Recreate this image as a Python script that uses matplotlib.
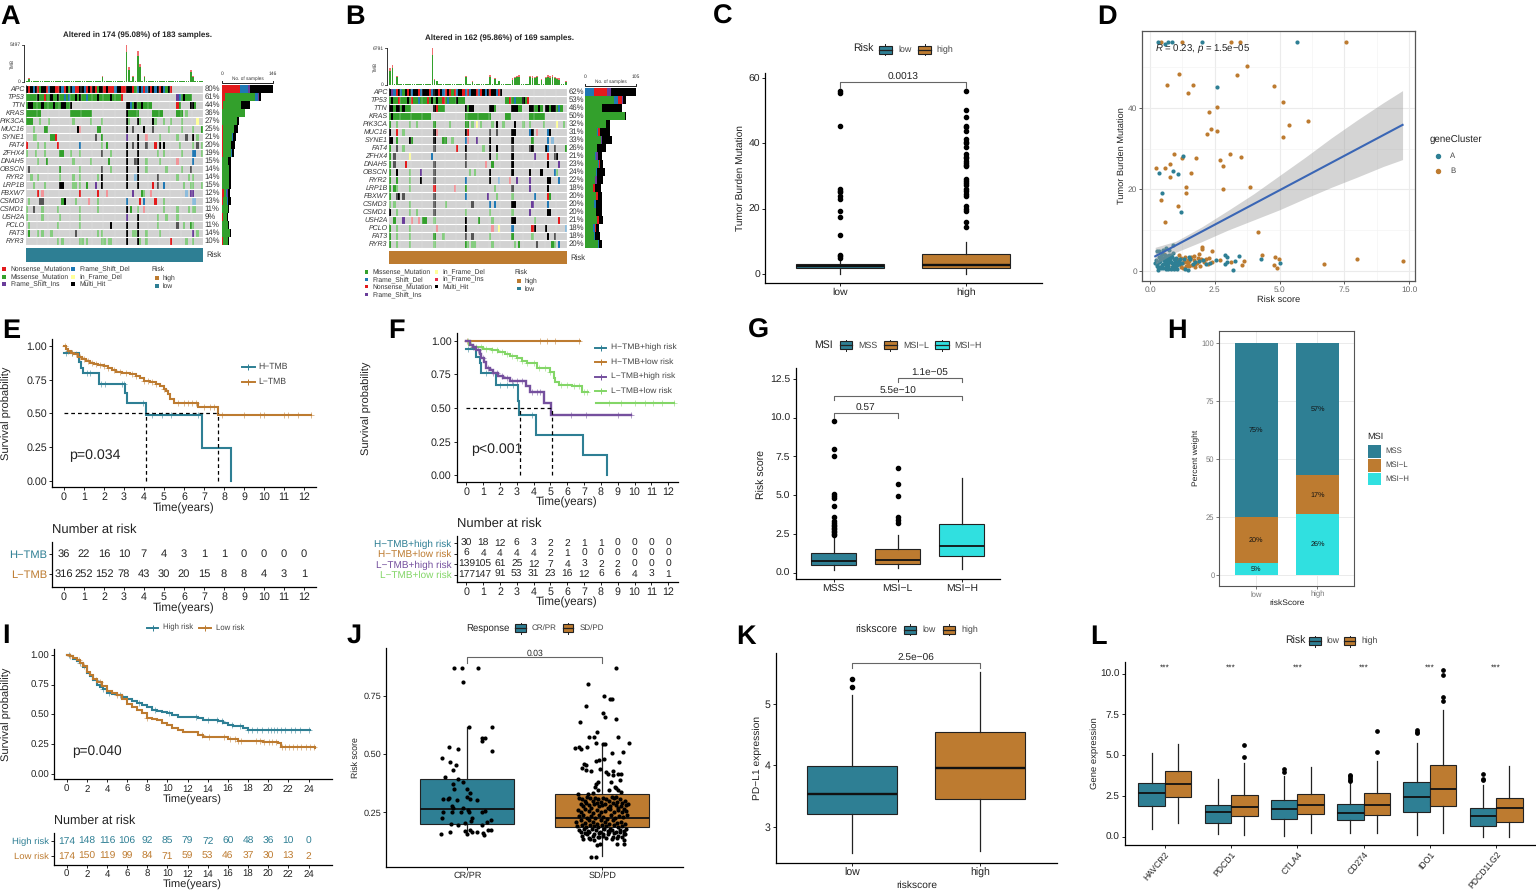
import numpy as np
import matplotlib
matplotlib.use('Agg')
import matplotlib.pyplot as plt
from matplotlib.colors import ListedColormap
from matplotlib.patches import Rectangle

plt.rcParams['font.family'] = ['Liberation Sans', 'DejaVu Sans']
plt.rcParams['axes.unicode_minus'] = True
plt.rcParams['text.hinting'] = 'none'
plt.rcParams['mathtext.fontset'] = 'custom'
plt.rcParams['mathtext.it'] = 'Liberation Sans:italic'
plt.rcParams['mathtext.rm'] = 'Liberation Sans'

TEAL = '#2E7F94'
ORANGE = '#BD7B30'
CYAN = '#30E0E0'
LGREEN = '#83D667'
PURPLE = '#75509E'
W, H = 1536, 891

# ---------- panel A / B oncoplots ----------
genes_a = ['APC', 'TP53', 'TTN', 'KRAS', 'PIK3CA', 'MUC16', 'SYNE1', 'FAT4', 'ZFHX4', 'DNAH5',
           'OBSCN', 'RYR2', 'LRP1B', 'FBXW7', 'CSMD3', 'CSMD1', 'USH2A', 'PCLO', 'FAT3', 'RYR3']
pct_a = ['80%', '61%', '44%', '36%', '27%', '25%', '21%', '20%', '19%', '15%',
         '14%', '14%', '15%', '12%', '13%', '11%', '9%', '11%', '14%', '10%']
# per gene: (first column, mutation codes)
onco_a = [
    [(0, "XNXFXNMXXNFXXNNXFNXMXFNNXXFNXNXNMXXNXNNNFXXNNXXXNMFXFNFXNXFXNXFMXN")],
    [(0, "MMMMMXMMNMMXMMXMMFMFMMXMXMMFMMMMXMMMMMXMMMMN"), (68, "IFMXMMM")],
    [(0, "MXXMMMMXMMMMXMMMXXMMX"), (45, "XXFMXMMXMMMM"), (68, "NM"), (74, "XXM")],
    [(0, "MMMMMMM"), (20, "MMMMMMMMMM"), (45, "XMMMMM"), (57, "MMMMM"), (68, "MMM"), (72, "m")],
    [(0, "MMM"), (6, "m"), (10, "m"), (21, "m"), (29, "m"), (34, "m"), (45, "X"), (46, "m"), (50, "X"), (51, "m"),
     (57, "X"), (58, "m"), (62, "m"), (65, "m"), (70, "m"), (77, "Y")],
    [(3, "m"), (8, "MM"), (23, "Xn"), (32, "MM"), (45, "X"), (48, "x"), (53, "X"), (57, "x"), (64, "m"), (70, "m"), (75, "m"), (79, "M")],
    [(3, "mm"), (11, "MMN"), (31, "x"), (34, "M"), (45, "I"), (50, "X"), (54, "n"), (60, "m"), (68, "m"), (72, "x"), (75, "X"), (77, "m")],
    [(0, "N"), (5, "m"), (8, "m"), (14, "N"), (24, "F"), (34, "m"), (36, "M"), (45, "X"), (48, "x"), (50, "X"), (54, "x"), (58, "N"),
     (60, "X"), (62, "X"), (69, "m"), (75, "m"), (77, "x"), (79, "m")],
    [(0, "m"), (4, "m"), (8, "m"), (15, "MM"), (20, "m"), (24, "m"), (34, "x"), (38, "m"), (45, "X"), (50, "X"), (59, "m"), (62, "m"),
     (70, "m"), (75, "FF"), (79, "m")],
    [(5, "m"), (9, "M"), (21, "m"), (29, "m"), (37, "M"), (45, "X"), (49, "xX"), (54, "m"), (60, "m"), (68, "n"), (75, "F")],
    [(1, "x"), (15, "M"), (24, "m"), (34, "x"), (38, "m"), (45, "X"), (50, "X"), (54, "m"), (63, "m"), (70, "m"), (74, "x")],
    [(2, "m"), (5, "m"), (15, "m"), (21, "m"), (24, "m"), (32, "m"), (34, "X"), (45, "X"), (49, "f"), (50, "X"), (59, "x"), (68, "m"), (73, "m"), (75, "m")],
    [(3, "m"), (8, "m"), (15, "XX"), (21, "m"), (22, "m"), (24, "m"), (27, "M"), (31, "I"), (34, "X"), (45, "X"), (50, "X"), (57, "N"), (59, "x"), (62, "F"),
     (71, "m"), (74, "m"), (75, "m"), (79, "m")],
    [(5, "N"), (7, "n"), (24, "N"), (32, "N"), (36, "n"), (48, "I"), (52, "M"), (53, "m"), (56, "n"), (72, "f"), (74, "I"), (75, "I")],
    [(1, "m"), (6, "xx"), (16, "MX"), (22, "m"), (28, "n"), (32, "m"), (45, "F"), (51, "N"), (53, "F"), (58, "N"), (62, "m"), (75, "ff")],
    [(0, "m"), (3, "x"), (7, "m"), (14, "m"), (24, "m"), (32, "m"), (45, "X"), (47, "M"), (50, "m"), (53, "n"), (62, "m"), (68, "m"), (73, "m"), (75, "mm")],
    [(0, "m"), (7, "m"), (15, "m"), (24, "m"), (45, "I"), (50, "X"), (59, "m"), (63, "m"), (68, "m")],
    [(1, "m"), (14, "m"), (24, "m"), (38, "X"), (45, "X"), (50, "X"), (59, "m"), (68, "x"), (71, "m"), (74, "M"), (75, "m")],
    [(1, "M"), (5, "m"), (7, "m"), (11, "m"), (22, "x"), (32, "m"), (34, "m"), (45, "X"), (48, "m"), (49, "m"), (50, "X"), (54, "m"), (60, "m"), (75, "I"), (77, "m")],
    [(14, "m"), (16, "m"), (24, "mm"), (27, "m"), (34, "m"), (35, "m"), (37, "m"), (38, "m"), (45, "X"), (50, "X"), (51, "m"), (54, "m"), (65, "N"), (72, "m"), (75, "m")],
]
tmb_a_cols = [1, 34, 45, 46, 48, 50, 51, 53, 74, 75]
tmb_a_vals = [0.10, 0.17, 1.00, 0.40, 0.17, 0.85, 0.50, 0.15, 0.32, 0.15]
bar_types_a = ['N', 'M', 'F', 'I', 'X']
bar_a = [[52, 0, 23, 6, 65], [10, 84, 10, 2, 5], [3, 50, 0, 0, 26], [0, 66, 0, 0, 0], [1, 43, 0, 0, 6],
         [2, 33, 0, 0, 11], [2, 28, 1, 1, 7], [3, 23, 1, 0, 9], [2, 25, 1, 0, 7], [1, 17, 0, 0, 7],
         [1, 18, 0, 0, 6], [1, 19, 1, 0, 5], [1, 18, 1, 1, 6], [5, 6, 4, 3, 4], [2, 12, 3, 1, 7],
         [1, 16, 0, 0, 4], [2, 11, 1, 0, 3], [1, 15, 0, 0, 5], [1, 21, 0, 0, 4], [2, 14, 0, 0, 3]]

pct_b = ['62%', '53%', '46%', '50%', '32%', '31%', '33%', '26%', '21%', '23%',
         '24%', '22%', '18%', '20%', '20%', '20%', '21%', '18%', '18%', '20%']
onco_b = [
    [(0, "XIFNXFMXNXFXXNFXXXNFXXNXFNXNMNFXXNFNFXXNFNXFXNXXFNX")],
    [(0, "MXMMNMMMXMNMMFMMMNMXMXMMNMFMMMXMMM"), (52, "MMNMFMMMXMN")],
    [(0, "XXMXXMXMMM"), (20, "XNMMM"), (34, "XMXX"), (45, "XXM"), (55, "XXXMM"), (63, "XXMMXM"), (70, "XXMXXMFM")],
    [(0, "MXMMMMMMMMMMMMMMMMM"), (34, "MMMMMMMMMMMM"), (52, "MMM"), (63, "MMMMMMM")],
    [(0, "M"), (3, "m"), (9, "m"), (12, "m"), (20, "M"), (27, "m"), (34, "MM"), (37, "m"), (39, "Y"), (41, "m"), (46, "m"), (48, "X"), (51, "m"), (56, "X"), (60, "m"), (63, "m"), (69, "m"), (75, "Y"), (78, "m")],
    [(0, "X"), (3, "N"), (6, "m"), (20, "Xn"), (34, "XN"), (45, "x"), (48, "x"), (55, "XX"), (63, "FX"), (66, "n"), (71, "FX")],
    [(0, "XX"), (3, "M"), (9, "XM"), (20, "X"), (24, "MM"), (28, "m"), (34, "Fn"), (39, "I"), (45, "X"), (55, "X"), (64, "M"), (71, "F"), (73, "f")],
    [(0, "M"), (3, "x"), (6, "m"), (20, "x"), (30, "N"), (34, "X"), (42, "m"), (45, "X"), (48, "X"), (55, "x"), (63, "xX"), (70, "XF"), (74, "x"), (79, "M")],
    [(0, "M"), (2, "x"), (9, "Y"), (19, "F"), (34, "x"), (45, "X"), (48, "m"), (55, "X"), (65, "I"), (71, "N"), (74, "xX")],
    [(0, "M"), (2, "x"), (7, "N"), (20, "x"), (34, "x"), (43, "n"), (46, "M"), (55, "X"), (71, "X"), (76, "I")],
    [(0, "M"), (3, "X"), (9, "m"), (14, "I"), (20, "x"), (36, "m"), (38, "m"), (45, "X"), (55, "X"), (63, "X"), (68, "X"), (74, "Fm")],
    [(0, "M"), (3, "M"), (9, "m"), (14, "X"), (20, "x"), (34, "F"), (45, "X"), (49, "f"), (54, "n"), (57, "I"), (63, "I"), (71, "XX"), (76, "F")],
    [(0, "M"), (2, "Mm"), (9, "m"), (20, "N"), (29, "n"), (34, "M"), (47, "m"), (55, "x"), (63, "I"), (71, "X")],
    [(0, "M"), (3, "xX"), (6, "x"), (20, "x"), (34, "F"), (44, "I"), (48, "m"), (55, "m"), (65, "F"), (71, "NM")],
    [(0, "m"), (2, "m"), (9, "m"), (20, "x"), (25, "m"), (37, "x"), (45, "F"), (47, "F"), (55, "XX"), (64, "I"), (71, "F")],
    [(0, "X"), (3, "m"), (9, "m"), (12, "m"), (20, "x"), (34, "m"), (45, "m"), (55, "m"), (63, "I"), (71, "XX")],
    [(2, "M"), (6, "I"), (10, "n"), (13, "n"), (15, "MM"), (20, "m"), (34, "X"), (40, "M"), (46, "m"), (55, "XX"), (65, "m"), (76, "N")],
    [(0, "M"), (3, "m"), (9, "m"), (21, "n"), (34, "X"), (46, "n"), (49, "Y"), (55, "F"), (64, "NX"), (70, "X"), (79, "f")],
    [(0, "M"), (3, "m"), (9, "m"), (20, "M"), (24, "m"), (34, "x"), (37, "x"), (45, "m"), (55, "M"), (64, "m"), (71, "X"), (74, "x")],
    [(0, "M"), (3, "m"), (9, "m"), (20, "m"), (34, "Mm"), (37, "mm"), (46, "m"), (56, "m"), (58, "M"), (66, "x"), (73, "Mm"), (76, "F")],
]
tmb_b_cols = [0, 1, 3, 19, 20, 21, 34, 37, 45, 47, 49, 55, 56, 57, 58, 63, 64, 65, 66, 68, 70, 71, 72, 73, 74, 75, 76, 79]
tmb_b_vals = [0.45, 0.55, 0.25, 1.0, 0.16, 0.12, 0.25, 0.10, 0.28, 0.20, 0.12, 0.18, 0.22, 0.25, 0.28,
              0.25, 0.24, 0.22, 0.25, 0.15, 0.22, 0.26, 0.24, 0.28, 0.22, 0.20, 0.18, 0.10]
bar_types_b = ['M', 'F', 'N', 'I', 'X']
bar_b = [[0, 19, 27, 7, 51], [59, 8, 10, 1, 7], [34, 0, 2, 0, 40], [82, 0, 0, 0, 2], [44, 0, 0, 0, 8],
         [25, 2, 3, 0, 22], [32, 0, 0, 2, 21], [25, 0, 0, 0, 18], [20, 2, 1, 3, 8], [27, 2, 2, 0, 6],
         [22, 2, 0, 0, 18], [20, 0, 0, 4, 14], [17, 0, 4, 0, 11], [22, 0, 5, 0, 7], [19, 4, 0, 0, 11],
         [23, 0, 0, 0, 11], [24, 0, 4, 0, 10], [17, 3, 2, 0, 7], [18, 3, 0, 0, 9], [26, 3, 0, 0, 5]]

# ---------- panel C ----------
c_low = [1.8, 2.4, 3.2, 0.1, 4.8]
c_low_out = [5, 5.5, 5.9, 12, 17.5, 19.3, 23, 24, 25, 25.5, 26, 45.5, 55.5, 56]
c_high = [1.7, 2.8, 6.0, 0.1, 9.7]
c_high_out = [14.5, 16, 19.2, 20, 20.7, 23.8, 24.5, 25.5, 26, 27.3, 28, 28.5, 29, 33, 33.5, 34, 34.6, 35.5, 36, 36.7,
              39, 40, 40.5, 41.3, 43.7, 45, 45.5, 48, 50.3, 56]

# ---------- panel D ----------
d_a_x = [0.30, 0.59, 0.71, 0.84, 2.0, 5.69, 2.57, 1.29, 0.36, 0.89, 1.09, 0.45, 1.2, 4.29, 5.03, 3.2, 3.44, 2.91, 2.96, 2.88, 2.96, 3.29, 2.55,
         2.15, 2.3, 2.05, 1.9, 1.75, 1.65, 1.55, 1.45, 1.35, 1.25, 1.15, 1.05, 0.95, 0.9, 0.85, 0.8, 0.75, 0.7, 0.65, 0.6, 0.55, 0.5, 0.45, 0.4,
         0.35, 0.3, 0.25, 0.2, 0.27, 0.33, 0.38, 0.44, 0.5, 0.57, 0.63, 0.69, 0.74, 0.82, 0.88, 0.93, 1.0, 1.06, 1.12, 1.3, 1.5, 0.4, 0.6, 0.72, 0.9,
         0.28, 0.36, 0.47, 0.53, 0.62, 0.67, 0.78, 0.86, 0.97, 1.02, 1.1, 0.32, 0.42, 0.52, 0.58, 0.68, 0.76, 0.84, 0.92, 1.0, 0.24, 0.48, 0.66, 0.8]
d_a_y = [56.1, 55.5, 56.1, 56.1, 56.1, 56.1, 45, 28.2, 24.1, 24.5, 23.7, 19.2, 14.5, 2.9, 2.0, 0.3, 3.7, 3.8, 3.5, 1.6, 2.2, 2.4, 2.7,
         1.7, 1.9, 2.6, 2.5, 2.3, 1.7, 2.9, 0.3, 0.4, 2.0, 3.0, 0.4, 2.6, 1.3, 3.5, 0.5, 4.0, 1.9, 2.8, 0.6, 3.2, 1.7, 4.2, 2.4, 3.4, 0.3, 1.6, 2.0,
         4.9, 5.0, 2.8, 0.7, 5.1, 3.9, 5.7, 1.2, 5.2, 2.2, 6.3, 0.5, 3.3, 1.5, 2.5, 3.0, 3.4, 1.0, 1.8, 3.0, 4.3,
         1.2, 2.1, 1.5, 2.7, 1.1, 3.7, 3.1, 1.9, 2.0, 1.2, 1.8, 0.9, 3.6, 0.8, 2.3, 0.4, 2.5, 1.0, 3.0, 2.3, 2.6, 3.3, 3.1, 3.8]
d_b_x = [0.42, 1.22, 3.13, 3.49, 7.57, 3.75, 1.12, 3.37, 0.67, 1.67, 4.8, 1.48, 5.14, 2.59, 2.27, 6.11, 5.38, 2.36, 2.57, 2.19, 5.15,
         0.94, 3.1, 3.51, 1.22, 1.78, 2.7, 0.79, 2.83, 0.24, 0.57, 1.6, 0.79, 1.38, 2.82, 3.86, 1.38, 0.42, 1.08, 0.58, 4.16,
         9.77, 7.99, 6.73, 4.32, 4.84, 4.97, 4.77, 4.92, 2.0, 2.02, 2.39, 1.9, 2.27, 2.7, 3.62, 3.55, 3.11,
         1.85, 1.8, 1.7, 1.62, 1.55, 1.48, 1.4, 1.35, 1.3, 1.2, 1.15, 1.1, 1.03, 0.98, 0.7, 0.65, 0.55, 2.1, 1.95, 1.75, 1.5, 1.25, 1.18,
         1.42, 1.52, 1.58, 1.68, 1.72, 1.88, 1.92, 1.28, 1.33, 1.45, 0.62, 0.75, 2.4, 2.25, 2.15]
d_b_y = [56.1, 56.1, 56.1, 56.1, 56.1, 50.3, 48.2, 48, 45.5, 45.5, 45.4, 43.7, 41.3, 40.3, 39, 36.7, 35.7, 34.8, 34.3, 33.6, 32.8,
         28.7, 28.7, 28, 27.8, 27.7, 27.2, 26.2, 25.7, 25.2, 25.2, 24, 23, 20.6, 20.2, 20.6, 19.1, 17.4, 15.9, 12, 9.6,
         2.45, 2.86, 1.8, 3.9, 3.35, 3.0, 1.4, 0.8, 5.9, 5.3, 4.9, 4.2, 3.3, 2.7, 2.4, 1.5, 2.2,
         3.1, 2.0, 3.6, 1.5, 3.3, 2.8, 1.2, 3.5, 2.3, 0.9, 1.6, 3.8, 2.9, 1.1, 1.3, 2.7, 4.1, 2.1, 3.0, 1.1, 2.5, 1.9, 3.3,
         2.1, 1.2, 3.4, 2.6, 1.7, 2.4, 1.3, 0.8, 2.9, 1.8, 1.0, 2.2, 2.1, 1.7, 2.9]
d_fit_x = [0.2, 9.75]
d_fit_y = [3.6, 35.8]
d_band_x = [0.2, 1, 2, 3, 4, 5, 6, 7, 8, 9, 9.75]
d_band_hi = [5.8, 7.3, 10.8, 14.8, 18.9, 23.4, 27.9, 32.6, 37, 41.2, 44.2]
d_band_lo = [1.6, 4.6, 7.2, 10, 12.5, 15, 17.8, 20.5, 23, 25.6, 27.3]

# ---------- panels E / F / I survival ----------
e_h_t = [0, 0.75, 0.85, 0.95, 1.75, 3.05, 3.15, 4.1, 6.92, 8.35]
e_h_s = [0.95, 0.88, 0.84, 0.80, 0.72, 0.65, 0.575, 0.49, 0.245, 0.0]
e_h_c = [0.1, 0.4, 1.15, 1.3, 1.85, 2.05, 2.9, 3.0, 3.95, 4.4, 4.9, 5.35, 6.7]
e_l_t = [0, 0.1, 0.2, 0.35, 0.5, 0.7, 0.9, 1.1, 1.3, 1.5, 1.7, 2.0, 2.2, 2.4, 2.6, 2.9, 3.3, 3.6, 3.8, 4.0, 4.3, 4.6, 4.8, 5.0, 5.1, 5.2, 5.3, 5.5, 6.7, 7.7, 12.35]
e_l_s = [1.0, 0.98, 0.96, 0.95, 0.94, 0.92, 0.90, 0.885, 0.875, 0.865, 0.86, 0.85, 0.835, 0.825, 0.81, 0.80, 0.79, 0.78, 0.76, 0.74, 0.73, 0.72, 0.70, 0.68, 0.665, 0.64, 0.61, 0.58, 0.545, 0.49, 0.49]
e_l_c = [0.05, 0.2, 0.4, 0.6, 0.8, 1.0, 1.2, 1.4, 1.6, 1.8, 2.0, 2.2, 2.5, 2.8, 3.1, 3.4, 3.6, 4.0, 4.2, 4.4, 4.6, 5.0, 5.7, 6.0, 6.2, 6.4, 6.6, 7.0, 7.3, 7.5,
         7.9, 9.0, 9.8, 10.0, 11.0, 11.2, 11.7, 12.35]
e_risk_h = [36, 22, 16, 10, 7, 4, 3, 1, 1, 0, 0, 0, 0]
e_risk_l = [316, 252, 152, 78, 43, 30, 20, 15, 8, 8, 4, 3, 1]

f_hh_t = [0, 0.6, 0.8, 0.9, 1.75, 3.05, 3.15, 4.15, 6.95, 8.35]
f_hh_s = [0.94, 0.88, 0.83, 0.76, 0.67, 0.55, 0.445, 0.30, 0.15, 0.0]
f_hh_c = [0.1, 1.2, 2.0, 2.4, 2.8, 3.9]
f_hl_t = [0, 6.75]
f_hl_s = [1.0, 1.0]
f_hl_c = [0.05, 4.4, 4.8, 5.3, 6.7]
f_lh_t = [0, 0.2, 0.4, 0.6, 0.8, 0.9, 1.05, 1.2, 1.4, 1.6, 1.9, 2.2, 2.6, 3.55, 3.8, 4.6, 5.05, 9.8]
f_lh_s = [1.0, 0.97, 0.95, 0.93, 0.90, 0.87, 0.84, 0.80, 0.78, 0.76, 0.74, 0.72, 0.70, 0.66, 0.62, 0.54, 0.45, 0.45]
f_lh_c = [0.4, 0.7, 1.0, 1.3, 1.6, 1.8, 2.1, 2.4, 2.7, 3.0, 3.3, 3.9, 4.2, 4.4, 6.2, 7.1, 9.0, 9.8]
f_ll_t = [0, 0.15, 0.4, 1.0, 1.5, 1.9, 2.3, 2.6, 3.0, 3.3, 3.6, 4.2, 5.0, 5.2, 5.3, 5.5, 6.3, 6.9, 7.22, 7.72, 12.35]
f_ll_s = [1.0, 0.97, 0.95, 0.94, 0.93, 0.915, 0.90, 0.885, 0.87, 0.85, 0.83, 0.80, 0.77, 0.72, 0.69, 0.67, 0.66, 0.62, np.nan, 0.535, 0.535]
f_ll_c = [0.1, 0.3, 0.6, 0.9, 1.2, 1.5, 1.8, 2.1, 2.4, 2.7, 3.0, 3.3, 3.6, 4.0, 4.3, 4.7, 5.0, 5.6, 6.0, 6.4, 6.7, 7.0, 7.15,
          8.5, 9.2, 10, 10.6, 11.1, 11.6, 12.35]
f_risk = [[30, 18, 12, 6, 3, 2, 2, 1, 1, 0, 0, 0, 0],
          [6, 4, 4, 4, 4, 2, 1, 0, 0, 0, 0, 0, 0],
          [139, 105, 61, 25, 12, 7, 4, 3, 2, 2, 0, 0, 0],
          [177, 147, 91, 53, 31, 23, 16, 12, 6, 6, 4, 3, 1]]
f_risk_names = ['H\u2212TMB+high risk', 'H\u2212TMB+low risk', 'L\u2212TMB+high risk', 'L\u2212TMB+low risk']

i_h_t = [0, 0.3, 0.6, 1, 1.3, 1.6, 2, 2.3, 2.6, 3, 3.3, 3.6, 4, 4.5, 5, 5.5, 6, 6.5, 7, 7.5, 8, 8.5, 9, 9.5, 10, 10.5, 11, 11.5, 12, 13, 13.5, 14, 15, 15.5, 16,
         16.5, 17, 17.5, 18, 24.1]
i_h_s = [1.0, 0.99, 0.97, 0.95, 0.93, 0.90, 0.85, 0.82, 0.79, 0.75, 0.73, 0.71, 0.68, 0.67, 0.66, 0.645, 0.63, 0.615, 0.60, 0.58, 0.56, 0.54, 0.53, 0.52, 0.51,
         0.495, 0.48, 0.478, 0.475, 0.47, 0.455, 0.45, 0.445, 0.43, 0.41, 0.405, 0.40, 0.385, 0.37, 0.37]
i_h_c = [0.2, 1.3, 2.9, 3.6, 4.2, 5.3, 7.2, 8.8, 10.2, 12.8, 14, 14.9, 15.4, 16.4, 17.2, 18, 18.4, 18.9, 19.4, 20, 20.3, 20.6, 20.9, 21.3, 21.7, 22.3, 22.7, 23.2, 24]
i_l_t = [0, 0.3, 0.6, 1, 1.3, 1.6, 2, 2.3, 2.6, 3, 3.5, 4, 4.5, 5, 5.5, 6, 6.5, 7, 7.5, 8, 8.5, 9, 9.5, 10, 10.5, 11, 11.5, 12, 13, 13.5, 15, 16, 17, 19, 19.5, 21, 21.3, 24.6]
i_l_s = [1.0, 0.99, 0.975, 0.96, 0.935, 0.91, 0.86, 0.83, 0.80, 0.77, 0.735, 0.70, 0.68, 0.66, 0.63, 0.59, 0.565, 0.54, 0.51, 0.47, 0.46, 0.45, 0.43, 0.41, 0.39, 0.37, 0.355, 0.35, 0.33, 0.31, 0.31, 0.29, 0.28, 0.28, 0.265, 0.26, 0.225, 0.22]
i_l_c = [0.3, 1.2, 1.7, 3.3, 5, 8, 13.4, 14.1, 15.6, 16.2, 16.7, 17.0, 17.3, 18.8, 19.2, 19.6, 20.1, 20.4, 20.8, 21.4, 21.7, 22.1, 22.5, 22.9, 23.3, 23.7, 24.1, 24.5]
i_risk_h = [174, 148, 116, 106, 92, 85, 79, 72, 60, 48, 36, 10, 0]
i_risk_l = [174, 150, 119, 99, 84, 71, 59, 53, 46, 37, 30, 13, 2]

# ---------- panel G / H ----------
g_cats = ['MSS', 'MSI\u2212L', 'MSI\u2212H']
g_mss = [0.5, 0.77, 1.25, 0.15, 2.35]
g_mss_out = [2.4, 2.5, 2.6, 2.7, 2.8, 2.9, 3.0, 3.1, 3.2, 3.3, 3.6, 4.3, 4.8, 4.95, 5.05, 7.55, 8.0, 9.8]
g_msil = [0.55, 0.8, 1.5, 0.27, 2.45]
g_msil_out = [3.2, 3.4, 3.6, 4.95, 5.7, 6.75]
g_msih = [1.1, 1.7, 3.15, 0.25, 6.1]
h_cats = ['low', 'high']
h_msih = [5, 26]
h_msil = [20, 17]
h_mss = [75, 57]

# ---------- panel J ----------
j_cr_x = [-.096, -.04, .079, -.032, .012, .18, .106, .131, .111, .185, -.133, -.067, -.188, -.128, -.084, -.109, -.165, -.067, -.035, -.104,
          -.099, -.005, .02, -.18, -.146, -.136, -.074, 0, .02, .074, -.116, -.109, -.03, .007, -.178, -.116, -.047, .015, .106, .131,
          -.19, .032, .025, .175, -.121, -.072, -.017, .111, .143, -.198, -.128, -.017, 0, .032, .069, .119, .123, .156, .175, .02]
j_cr_y = [.871, .871, .871, .81, .618, .616, .571, .568, .557, .515, .531, .524, .485, .464, .452, .432, .403, .393, .378, .372,
          .35, .35, .332, .306, .309, .312, .303, .315, .306, .303, .277, .267, .267, .26, .253, .25, .253, .253, .253, .256,
          .224, .224, .213, .217, .198, .196, .203, .196, .206, .157, .163, .17, .155, .167, .167, .16, .152, .174, .174, .174]
j_sd_x = [.104, -.104, .015, .062, .072, -.116, .007, .02, .101, -.165, -.035, -.096, -.059, .121, -.047, .2, .007, .02, -.2, -.175,
          -.158, -.111, .077, .156, -.047, -.022, .012, .126, -.136, -.116, -.146, -.116, -.017, -.084, .032, .081, .119, .143, .044, .081,
          .136, -.03, .069, -.042, -.054, .094, .106, -.03, .052, .119, .143, -.178, -.104, -.067, .106,
          -.079, -.047, -.04, -.015, .111, .165, .165, -.09,
          -.17, -.15, -.13, -.11, -.09, -.07, -.05, -.03, -.01, .01, .03, .05, .07, .09, .11, .13, .15, .17, .19,
          -.16, -.14, -.12, -.1, -.08, -.06, -.04, -.02, 0, .02, .04, .06, .08, .1, .12, .14, .16, .18,
          -.18, -.155, -.125, -.095, -.065, -.035, -.005, .025, .055, .085, .115, .145, .175,
          -.175, -.145, -.115, -.085, -.055, -.025, .005, .035, .065, .095, .125, .155, .185,
          -.19, -.16, -.13, -.1, -.07, -.04, -.01, .02, .05, .08, .11, .14, .17,
          -.185, -.15, -.12, -.09, -.06, -.03, 0, .03, .06, .09, .12, .15, .18,
          -.17, -.135, -.105, -.075, -.045, -.015, .015, .045, .075, .105, .135, .165,
          -.16, -.125, -.095, -.06, -.02, .01, .05, .09, .13, .17,
          -.15, -.11, -.07, -.03, .01, .04, .08, .12, .16,
          -.14, -.1, -.06, -.02, .03, .07, .11, .15]
j_sd_y = [.871, .802, .749, .735, .736, .707, .676, .661, .65, .636, .597, .574, .574, .574, .547, .547, .542, .542, .528, .532,
          .521, .53, .504, .508, .472, .475, .477, .468, .458, .454, .442, .432, .436, .428, .425, .428, .416, .416, .413, .41,
          .39, .378, .378, .37, .36, .36, .353, .346, .346, .346, .339, .329, .329, .332, .317,
          .059, .059, .11, .114, .112, .112, .131, .134,
          .31, .305, .3, .315, .31, .3, .312, .305, .295, .31, .305, .3, .315, .31, .295, .305, .29, .3, .285,
          .285, .275, .29, .28, .27, .285, .29, .275, .28, .285, .27, .275, .29, .28, .27, .275, .265, .28,
          .26, .25, .265, .255, .245, .26, .25, .255, .265, .25, .26, .25, .255,
          .235, .24, .225, .235, .225, .24, .23, .22, .24, .225, .235, .23, .24,
          .21, .215, .205, .215, .21, .2, .215, .21, .2, .215, .205, .21, .2,
          .19, .195, .185, .195, .19, .185, .195, .19, .18, .195, .185, .19, .18,
          .175, .18, .17, .18, .175, .165, .18, .17, .175, .165, .175, .17,
          .165, .16, .165, .155, .16, .155, .165, .16, .165, .155,
          .15, .155, .15, .145, .15, .155, .145, .15, .155,
          .135, .14, .13, .145, .14, .135, .14, .145]
j_crpr = [0.2, 0.265, 0.395, 0.155, 0.615]
j_sdpd = [0.185, 0.225, 0.33, 0.06, 0.54]

# ---------- panel K ----------
k_low = [3.2, 3.53, 3.99, 2.57, 5.15]
k_low_out = [5.27, 5.4]
k_high = [3.46, 3.95, 4.55, 2.6, 5.52]

# ---------- panel L ----------
l_genes = ['HAVCR2', 'PDCD1', 'CTLA4', 'CD274', 'IDO1', 'PDCD1LG2']
l_low = [[1.87, 2.67, 3.3, 0.5, 5.15], [0.85, 1.5, 1.97, 0.15, 3.55], [1.1, 1.7, 2.25, 0.05, 3.7],
         [1.0, 1.45, 2.0, 0.22, 3.3], [1.52, 2.45, 3.35, 0.12, 5.75], [0.63, 1.27, 1.78, 0.0, 3.17]]
l_low_out = [[], [], [3.95, 4.18], [3.4, 3.5, 3.6, 3.7, 3.78], [6.35, 6.45, 6.55], [3.45, 3.55, 3.87]]
l_high = [[2.43, 3.23, 4.03, 0.85, 5.7], [1.25, 1.85, 2.55, 0.12, 4.5], [1.42, 1.95, 2.6, 0.25, 4.25],
          [1.33, 1.95, 2.7, 0.25, 4.67], [1.88, 2.93, 4.4, 0.22, 7.8], [0.92, 1.77, 2.38, 0.0, 4.35]]
l_high_out = [[], [4.87, 5.6], [], [5.2, 6.5], [8.3, 8.6, 9.95, 10.2], []]

fig = plt.figure(figsize=(W / 100, H / 100), dpi=100)


def px_axes(left, top, right, bottom):
    return fig.add_axes([left / W, 1 - bottom / H, (right - left) / W, (bottom - top) / H])


def classic(ax, lw=0.9, size=7.5):
    ax.spines[['top', 'right']].set_visible(False)
    ax.spines[['left', 'bottom']].set_linewidth(lw)
    ax.tick_params(labelsize=size, length=2.2, width=0.7, pad=1.5, colors='#222222')


def box_stats(vals, out=()):
    return {'q1': vals[0], 'med': vals[1], 'q3': vals[2], 'whislo': vals[3], 'whishi': vals[4], 'fliers': list(out)}


def draw_boxes(ax, stats, pos, width, colors, med_lw=1.7, ms=3.0):
    b = ax.bxp(stats, positions=pos, widths=width, patch_artist=True, showcaps=False, manage_ticks=False,
               boxprops={'linewidth': 0.8, 'edgecolor': '#222222'},
               whiskerprops={'linewidth': 0.9, 'color': '#222222'},
               medianprops={'linewidth': med_lw, 'color': '#111111', 'solid_capstyle': 'butt'},
               flierprops={'marker': 'o', 'markerfacecolor': 'k', 'markeredgecolor': 'k', 'markersize': ms})
    for patch, c in zip(b['boxes'], colors):
        patch.set_facecolor(c)


def bracket(ax, x0, x1, y, tip, label, size=7.3):
    ax.plot([x0, x0, x1, x1], [y - tip, y, y, y - tip], color='#666666', lw=0.8, zorder=5)
    ax.text((x0 + x1) / 2, y, label, ha='center', va='bottom', fontsize=size, color='#222222', linespacing=1)


def km(ax, t, s, color, cens, lw=1.5):
    t = np.array(t, dtype=float)
    s = np.array(s, dtype=float)
    ax.step(t, s, where='post', color=color, lw=lw, solid_joinstyle='miter')
    cens = np.array(cens, dtype=float)
    ys = s[np.searchsorted(t, cens, side='right') - 1]
    ax.plot(cens, ys, '+', color=color, ms=4.5, mew=0.5, alpha=0.75)


def risk_table(ax, rows, names, xticks, ycolors, num_colors=None, size=7.6, name_size=None):
    n = len(rows)
    for i, r in enumerate(rows):
        y = n - i
        for x, v in zip(xticks, r):
            ax.text(x, y, str(v), ha='center', va='center', fontsize=size,
                    color=num_colors[i] if num_colors else '#222222')
    ax.set_yticks(range(n, 0, -1))
    ax.set_yticklabels(names, fontsize=name_size or size)
    for lab, c in zip(ax.get_yticklabels(), ycolors):
        lab.set_color(c)
    ax.set_xticks(xticks)


def oncoplot(left, top, right, runs, genes, pcts, tmb_cols, tmb_vals, tmb_max, tmb_left, tmb_top, tmb_bottom,
             bar_left, bar_right, bar, bar_types, bar_max, risk_top, risk_bottom, risk_color, title, title_xy):
    bottom = top + 160
    codes = {'M': 1, 'm': 2, 'N': 3, 'n': 4, 'F': 5, 'f': 6, 'I': 7, 'X': 8, 'Y': 9, 'x': 10}
    mat = np.zeros((20, 80))
    for i, row in enumerate(runs):
        for start, text in row:
            for j, ch in enumerate(text):
                if start + j < 80:
                    mat[i, start + j] = codes[ch]
    cmap = ListedColormap(['#D2D2D2', '#33A02C', '#86CC80', '#E31A1C', '#F29499', '#1F78B4', '#8CBCDC', '#6A3D9A',
                           '#000000', '#FFFF99', '#555555'])
    ax = px_axes(left, top, right, bottom)
    ax.imshow(mat, cmap=cmap, vmin=-0.5, vmax=10.5, aspect='auto', interpolation='nearest', extent=(0, 80, 20, 0))
    ax.hlines(np.arange(21), 0, 80, color='white', lw=0.8)
    ax.vlines(np.arange(0, 81, 5), 0, 20, color='#E6E6E6', lw=0.25)
    ax.set_xlim(0, 80)
    ax.set_ylim(20, 0)
    ax.axis('off')
    for i in range(20):
        ov.text(left - 1.5, top + 8 * i + 4, genes[i], ha='right', va='center', fontsize=5.0, style='italic', color='#333333')
        ov.text(right + 1.5, top + 8 * i + 4, pcts[i], ha='left', va='center', fontsize=5.6, color='#333333')

    # TMB bars on top
    tx = px_axes(left, tmb_top, right, tmb_bottom)
    tx.set_xlim(0, 80)
    tx.set_ylim(0, 1)
    tmb_all = np.full(80, 0.02)
    tmb_all[np.array(tmb_cols)] = tmb_vals
    tx.bar(np.arange(80) + 0.5, tmb_all * 0.82, width=0.75, color='#33A02C')
    tx.bar(np.arange(80) + 0.5, tmb_all * 0.18, bottom=tmb_all * 0.82, width=0.75, color='#F07070')
    tx.axis('off')
    ov.plot([tmb_left, tmb_left], [tmb_top, tmb_bottom], color='#333333', lw=0.7)
    for yy in (tmb_top, tmb_bottom):
        ov.plot([tmb_left - 2, tmb_left], [yy, yy], color='#333333', lw=0.6)
    ov.text(tmb_left - 3, tmb_top, str(tmb_max), ha='right', va='center', fontsize=3.6, color='#333333')
    ov.text(tmb_left - 3, tmb_bottom, '0', ha='right', va='center', fontsize=3.6, color='#333333')
    ov.text(tmb_left - 11, (tmb_top + tmb_bottom) / 2, 'TMB', rotation=90, ha='center', va='center', fontsize=3.4, color='#333333')

    # sample count bars on the right
    colors = {'M': '#33A02C', 'N': '#E31A1C', 'F': '#1F78B4', 'I': '#6A3D9A', 'X': '#000000'}
    bx = px_axes(bar_left, top, bar_right, bottom)
    bx.set_xlim(0, bar_max)
    bx.set_ylim(20, 0)
    arr = np.array(bar, dtype=float)
    lefts = np.zeros(20)
    for k, name in enumerate(bar_types):
        bx.barh(np.arange(20) + 0.5, arr[:, k], left=lefts, height=0.9, color=colors[name])
        lefts += arr[:, k]
    bx.axis('off')
    ov.plot([bar_left, bar_left, bar_right, bar_right], [top - 4, top - 2, top - 2, top - 4], color='#222222', lw=0.7)
    ov.text(bar_left, top - 11, '0', ha='center', va='center', fontsize=3.6, color='#333333')
    ov.text(bar_right, top - 11, str(bar_max), ha='center', va='center', fontsize=3.6, color='#333333')
    ov.text((bar_left + bar_right) / 2, top - 6, 'No. of samples', ha='center', va='center', fontsize=3.4, color='#333333')

    ov.add_patch(Rectangle((left, risk_top), right - left, risk_bottom - risk_top, color=risk_color, lw=0))
    ov.text(right + 3, (risk_top + risk_bottom) / 2, 'Risk', ha='left', va='center', fontsize=5.6, color='#333333')
    ov.text(title_xy[0], title_xy[1], title, ha='center', va='center', fontsize=5.8, fontweight='bold', color='#222222')


def onco_legend(items, risk_xy, risk_sq_x, risk_text_x, risk_rows):
    for sx, tx, yy, name, c in items:
        ov.add_patch(Rectangle((sx - 1.6, yy - 1.6), 3.2, 3.2, color=c, lw=0))
        ov.text(tx, yy, name, ha='left', va='center', fontsize=4.9, color='#333333')
    ov.text(risk_xy[0], risk_xy[1], 'Risk', ha='left', va='center', fontsize=4.9, color='#333333')
    for yy, name, c in risk_rows:
        ov.add_patch(Rectangle((risk_sq_x - 1.6, yy - 1.6), 3.2, 3.2, color=c, lw=0))
        ov.text(risk_text_x, yy, name, ha='left', va='center', fontsize=4.9, color='#333333')


def box_key(x0, x1, yc, color):
    ov.plot([(x0 + x1) / 2] * 2, [yc - 5.5, yc + 5.5], color='#222222', lw=0.7, zorder=3)
    ov.add_patch(Rectangle((x0, yc - 4), x1 - x0, 8, facecolor=color, edgecolor='#222222', lw=0.8, zorder=4))
    ov.plot([x0, x1], [yc, yc], color='#222222', lw=0.9, zorder=5)


def top_legend(title, title_x, yc, keys, title_size=7.6, key_size=6.4):
    ov.text(title_x, yc, title, ha='left', va='center', fontsize=title_size, color='#222222')
    for x0, x1, tx, name, c in keys:
        box_key(x0, x1, yc, c)
        ov.text(tx, yc, name, ha='left', va='center', fontsize=key_size, color='#444444')


def line_key(x0, x1, yc, color, name, tx, size=6.2):
    ov.plot([x0, x1], [yc, yc], color=color, lw=1.4)
    ov.plot([(x0 + x1) / 2], [yc], '+', color=color, ms=4.5, mew=0.7)
    ov.text(tx, yc, name, ha='left', va='center', fontsize=size, color='#444444')


# overlay in pixel coordinates for legends and free labels
ov = fig.add_axes([0, 0, 1, 1], zorder=10)
ov.set_xlim(0, W)
ov.set_ylim(H, 0)
ov.axis('off')
ov.patch.set_alpha(0)

for lab, x, y in [('A', 0, 24), ('B', 345, 24), ('C', 713, 24), ('D', 1097, 24), ('E', 2, 338), ('F', 388, 338),
                  ('G', 748, 338), ('H', 1167, 338), ('I', 2, 643), ('J', 347, 643), ('K', 736, 644), ('L', 1090, 644)]:
    ov.text(x, y, lab, fontsize=19.5, fontweight='bold', ha='left', va='baseline', color='k')

# A
oncoplot(26, 85, 203, onco_a, genes_a, pct_a, tmb_a_cols, tmb_a_vals, 5497, 23.5, 45, 82, 222, 273, bar_a, bar_types_a, 146,
         247.7, 261.7, TEAL, 'Altered in 174 (95.08%) of 183 samples.', (138, 35))
onco_legend([(4, 10, 269, 'Nonsense_Mutation', '#E31A1C'), (4, 10, 277, 'Missense_Mutation', '#33A02C'),
             (4, 10, 284, 'Frame_Shift_Ins', '#6A3D9A'), (73, 79, 269, 'Frame_Shift_Del', '#1F78B4'),
             (73, 79, 277, 'In_Frame_Del', '#FFFF99'), (73, 79, 284, 'Multi_Hit', '#000000')],
            (151, 269), 157, 163, [(278, 'high', ORANGE), (286, 'low', TEAL)])

# B
oncoplot(389, 88, 567, onco_b, genes_a, pct_b, tmb_b_cols, tmb_b_vals, 6791, 386.7, 48.3, 85, 585, 636, bar_b, bar_types_b, 105,
         250.7, 264.3, ORANGE, 'Altered in 162 (95.86%) of 169 samples.', (500, 38))
onco_legend([(366.7, 372.7, 272, 'Missense_Mutation', '#33A02C'), (366.7, 372.7, 279.3, 'Frame_Shift_Del', '#1F78B4'),
             (366.7, 372.7, 286.7, 'Nonsense_Mutation', '#E31A1C'), (366.7, 372.7, 294.7, 'Frame_Shift_Ins', '#6A3D9A'),
             (436.7, 442, 272, 'In_Frame_Del', '#FFFF99'), (436.7, 442, 279.3, 'In_Frame_Ins', '#E3304A'),
             (436.7, 442, 286.7, 'Multi_Hit', '#000000')],
            (514, 272), 519, 525, [(281, 'high', ORANGE), (288.7, 'low', TEAL)])

# C
ax = px_axes(765, 73, 1041.6, 283)
classic(ax)
ax.set_xlim(-0.6, 1.6)
ax.set_ylim(-2.76, 61.6)
draw_boxes(ax, [box_stats(c_low, c_low_out), box_stats(c_high, c_high_out)], [0, 1], 0.7, [TEAL, ORANGE])
ax.set_xticks([0, 1], ['low', 'high'])
ax.set_yticks([0, 20, 40, 60])
bracket(ax, 0, 1, 58.7, 1.6, '0.0013')
top_legend('Risk', 852.7, 49.5, [(879, 891.7, 898, 'low', TEAL), (918, 931, 936.7, 'high', ORANGE)])
ov.text(740, 177.7, 'Tumor Burden Mutation', rotation=90, ha='center', va='center', fontsize=7.3, color='#222222')

# D
ax = px_axes(1142, 31, 1415, 281)
ax.set_xlim(-0.31, 10.23)
ax.set_ylim(-2.45, 58.8)
ax.grid(True, color='#EBEBEB', lw=0.8)
ax.set_axisbelow(True)
ax.set_xticks([1.25, 3.75, 6.25, 8.75], minor=True)
ax.set_yticks([10, 30, 50], minor=True)
ax.grid(True, which='minor', color='#F2F2F2', lw=0.4)
ax.tick_params(which='minor', length=0)
ax.scatter(d_b_x, d_b_y, s=9, color=ORANGE, lw=0, zorder=3)
ax.scatter(d_a_x, d_a_y, s=9, color=TEAL, lw=0, zorder=3)
ax.fill_between(d_band_x, d_band_lo, d_band_hi, color='#999999', alpha=0.42, lw=0, zorder=4)
ax.plot(d_fit_x, d_fit_y, color='#3A66B5', lw=1.5, zorder=5)
ax.set_xticks([0, 2.5, 5, 7.5, 10], ['0.0', '2.5', '5.0', '7.5', '10.0'])
ax.set_yticks([0, 20, 40])
ax.tick_params(labelsize=6, length=2, width=0.6, pad=1.5, labelcolor='#666666', color='#444444')
for sp in ax.spines.values():
    sp.set_color('#555555')
    sp.set_linewidth(0.9)
ax.text(0.2, 54.2, '$\\mathit{R}$ = 0.23, $\\mathit{p}$ = 1.5e\u221205', fontsize=6.9, va='center', color='#222222')
ov.text(1121.7, 156, 'Tumor Burden Mutation', rotation=90, ha='center', va='center', fontsize=6.7, color='#222222')
ov.text(1278.7, 299.7, 'Risk score', ha='center', va='center', fontsize=6.7, color='#222222')
ov.text(1430, 139, 'geneCluster', ha='left', va='center', fontsize=7, color='#222222')
ov.plot([1437.7], [155.7], 'o', color=TEAL, ms=2.9)
ov.plot([1437.7], [170.7], 'o', color=ORANGE, ms=2.9)
ov.text(1450, 155.7, 'A', ha='left', va='center', fontsize=5.6, color='#444444')
ov.text(1450, 170.7, 'B', ha='left', va='center', fontsize=5.6, color='#444444')

# E
ax = px_axes(52, 339, 316, 487)
classic(ax, size=7.7)
ax.set_xlim(-0.6, 12.6)
ax.set_ylim(-0.047, 1.052)
km(ax, e_h_t, e_h_s, TEAL, e_h_c)
km(ax, e_l_t, e_l_s, ORANGE, e_l_c)
ax.plot([0, 7.72], [0.5, 0.5], 'k--', lw=0.9, dashes=(3, 2.4))
ax.plot([4.12, 4.12], [0, 0.5], 'k--', lw=0.9, dashes=(3, 2.4))
ax.plot([7.72, 7.72], [0, 0.5], 'k--', lw=0.9, dashes=(3, 2.4))
ax.set_xticks(range(13))
ax.set_yticks([0, 0.25, 0.5, 0.75, 1.0], ['0.00', '0.25', '0.50', '0.75', '1.00'])
ov.text(7, 413, 'Survival probability', rotation=90, ha='center', va='center', fontsize=8, color='#222222')
ov.text(184, 508, 'Time(years)', ha='center', va='center', fontsize=8.4, color='#222222')
ov.text(69.3, 455, 'p=0.034', ha='left', va='center', fontsize=10.2, color='#222222')
line_key(241.7, 255, 367, TEAL, 'H\u2212TMB', 258.7)
line_key(241.7, 255, 381.7, ORANGE, 'L\u2212TMB', 258.7)
ax = px_axes(52, 541.7, 316, 586.7)
classic(ax, size=7.7)
ax.set_xlim(-0.6, 12.6)
ax.set_ylim(0.365, 2.615)
risk_table(ax, [e_risk_h, e_risk_l], ['H\u2212TMB', 'L\u2212TMB'], list(range(13)), [TEAL, ORANGE], size=8)
ov.text(52, 530, 'Number at risk', ha='left', va='center', fontsize=9.4, color='#222222')
ov.text(184, 608, 'Time(years)', ha='center', va='center', fontsize=8.4, color='#222222')

# F
ax = px_axes(456.7, 333, 678, 481.7)
classic(ax, size=7.7)
ax.set_xlim(-0.57, 12.58)
ax.set_ylim(-0.047, 1.056)
km(ax, f_hh_t, f_hh_s, TEAL, f_hh_c)
km(ax, f_hl_t, f_hl_s, ORANGE, f_hl_c)
km(ax, f_ll_t, f_ll_s, LGREEN, [c for c in f_ll_c if c < 7.2 or c > 7.72])
km(ax, f_lh_t, f_lh_s, PURPLE, f_lh_c, lw=1.7)
ax.plot([0, 5.07], [0.5, 0.5], 'k--', lw=0.9, dashes=(3, 2.4))
ax.plot([3.2, 3.2], [0, 0.5], 'k--', lw=0.9, dashes=(3, 2.4))
ax.plot([5.07, 5.07], [0, 0.5], 'k--', lw=0.9, dashes=(3, 2.4))
ax.set_xticks(range(13))
ax.set_yticks([0, 0.25, 0.5, 0.75, 1.0], ['0.00', '0.25', '0.50', '0.75', '1.00'])
ov.text(367, 408, 'Survival probability', rotation=90, ha='center', va='center', fontsize=8, color='#222222')
ov.text(567, 502.7, 'Time(years)', ha='center', va='center', fontsize=8.4, color='#222222')
ov.text(470.7, 449.7, 'p<0.001', ha='left', va='center', fontsize=10.2, color='#222222')
for yy, c, name in zip([347.7, 362.3, 376.7, 391], [TEAL, ORANGE, PURPLE, LGREEN], f_risk_names):
    line_key(595, 606, yy, c, name, 611, size=6.1)
ax = px_axes(456.7, 535.7, 678, 581.7)
classic(ax, size=7.7)
ax.set_xlim(-0.57, 12.58)
ax.set_ylim(0.34, 4.69)
risk_table(ax, f_risk, f_risk_names, list(range(13)), [TEAL, ORANGE, PURPLE, LGREEN], size=7.4, name_size=7.2)
ov.text(456.7, 524, 'Number at risk', ha='left', va='center', fontsize=9.4, color='#222222')
ov.text(567, 602, 'Time(years)', ha='center', va='center', fontsize=8.4, color='#222222')

# G
ax = px_axes(795.5, 368, 1000, 579.3)
classic(ax, size=7.5)
ax.set_xlim(-0.6, 2.6)
ax.set_ylim(-0.43, 13.2)
draw_boxes(ax, [box_stats(g_mss, g_mss_out), box_stats(g_msil, g_msil_out), box_stats(g_msih)], [0, 1, 2], 0.7, [TEAL, ORANGE, CYAN], med_lw=1.3)
ax.set_xticks([0, 1, 2], g_cats)
ax.set_yticks([0, 2.5, 5, 7.5, 10, 12.5], ['0.0', '2.5', '5.0', '7.5', '10.0', '12.5'])
bracket(ax, 0, 1, 10.27, 0.3, '0.57')
bracket(ax, 0, 2, 11.42, 0.3, '5.5e\u221210')
bracket(ax, 1, 2, 12.57, 0.3, '1.1e\u221205')
top_legend('MSI', 814.3, 345.3, [(840, 851.7, 858.7, 'MSS', TEAL), (884, 896.7, 903.7, 'MSI\u2212L', ORANGE), (935.3, 948.7, 954.7, 'MSI\u2212H', CYAN)])
ov.text(762.3, 474, 'Risk score', rotation=90, ha='center', va='center', fontsize=7.6, color='#222222')

# H
ax = px_axes(1219.3, 331, 1354.3, 586)
ax.set_xlim(-0.6, 1.6)
ax.set_ylim(-4.9, 105.2)
ax.grid(True, color='#EBEBEB', lw=0.7)
ax.set_axisbelow(True)
x = np.arange(2)
ax.bar(x, h_msih, width=0.7, color=CYAN)
ax.bar(x, h_msil, bottom=h_msih, width=0.7, color=ORANGE)
ax.bar(x, h_mss, bottom=np.add(h_msih, h_msil), width=0.7, color=TEAL)
for i in x:
    ax.text(i, h_msih[i] / 2, f'{h_msih[i]}%', ha='center', va='center', fontsize=5.2, color='#111111')
    ax.text(i, h_msih[i] + h_msil[i] / 2, f'{h_msil[i]}%', ha='center', va='center', fontsize=5.2, color='#111111')
    ax.text(i, h_msih[i] + h_msil[i] + h_mss[i] / 2, f'{h_mss[i]}%', ha='center', va='center', fontsize=5.2, color='#111111')
ax.set_xticks(x, h_cats)
ax.set_yticks([0, 25, 50, 75, 100])
ax.tick_params(labelsize=5.5, length=2, width=0.5, pad=1.5, labelcolor='#777777', color='#444444')
for sp in ax.spines.values():
    sp.set_color('#555555')
    sp.set_linewidth(0.8)
ov.text(1196.7, 458, 'Percent weight', rotation=90, ha='center', va='center', fontsize=6.1, color='#222222')
ov.text(1286.7, 602.7, 'riskScore', ha='center', va='center', fontsize=6.1, color='#222222')
ov.text(1367.3, 436.7, 'MSI', ha='left', va='center', fontsize=6.6, color='#222222')
for top, c, name in zip([445, 459, 472.7], [TEAL, ORANGE, CYAN], ['MSS', 'MSI\u2212L', 'MSI\u2212H']):
    ov.add_patch(Rectangle((1368, top), 12.7, 12.7, color=c, lw=0))
    ov.text(1385.3, top + 6.3, name, ha='left', va='center', fontsize=5.6, color='#444444')

# I
ax = px_axes(54.3, 649, 331.7, 779.3)
classic(ax, size=6.9)
ax.set_xlim(-1.23, 26.3)
ax.set_ylim(-0.045, 1.05)
km(ax, i_h_t, i_h_s, TEAL, i_h_c)
km(ax, i_l_t, i_l_s, ORANGE, i_l_c)
ax.set_xticks(range(0, 25, 2))
ax.set_yticks([0, 0.25, 0.5, 0.75, 1.0], ['0.00', '0.25', '0.50', '0.75', '1.00'])
ov.text(6.5, 714, 'Survival probability', rotation=90, ha='center', va='center', fontsize=8, color='#222222')
ov.text(192.7, 799.7, 'Time(years)', ha='center', va='center', fontsize=8, color='#222222')
ov.text(71.7, 751, 'p=0.040', ha='left', va='center', fontsize=9.8, color='#222222')
line_key(146.7, 158.3, 627.7, TEAL, 'High risk', 163.3, size=5.6)
line_key(199, 210.7, 627.7, ORANGE, 'Low risk', 215.7, size=5.6)
ax = px_axes(54.3, 833, 331.7, 865)
classic(ax, size=6.9)
ax.set_xlim(-1.23, 26.3)
ax.set_ylim(0.4, 2.53)
risk_table(ax, [i_risk_h, i_risk_l], ['High risk', 'Low risk'], list(range(0, 25, 2)), [TEAL, ORANGE], [TEAL, ORANGE], size=7.4, name_size=6.8)
ov.text(54.3, 820.7, 'Number at risk', ha='left', va='center', fontsize=9, color='#222222')
ov.text(192.7, 885, 'Time(years)', ha='center', va='center', fontsize=8, color='#222222')

# J
ax = px_axes(386.4, 648, 683, 866.7)
classic(ax, size=6.6)
ax.set_xlim(-0.6, 1.6)
ax.set_ylim(0.016, 0.956)
draw_boxes(ax, [box_stats(j_crpr), box_stats(j_sdpd)], [0, 1], 0.7, [TEAL, ORANGE], med_lw=1.3)
ax.scatter(j_cr_x, j_cr_y, s=9, color='k', lw=0, zorder=4)
ax.scatter(np.array(j_sd_x) + 1, j_sd_y, s=9, color='k', lw=0, zorder=4)
ax.set_xticks([0, 1], ['CR/PR', 'SD/PD'])
ax.set_yticks([0.25, 0.5, 0.75], ['0.25', '0.50', '0.75'])
bracket(ax, 0, 1, 0.916, 0.025, '0.03', size=6.2)
top_legend('Response', 466.7, 628, [(515.3, 526, 532, 'CR/PR', TEAL), (562.7, 573.3, 579.3, 'SD/PD', ORANGE)], title_size=6.9, key_size=5.8)
ov.text(356, 757.7, 'Risk score', rotation=90, ha='center', va='center', fontsize=6.3, color='#222222')

# K
ax = px_axes(775.5, 653, 1057, 863)
classic(ax, size=7.6)
ax.set_xlim(-0.6, 1.6)
ax.set_ylim(2.41, 5.83)
draw_boxes(ax, [box_stats(k_low, k_low_out), box_stats(k_high)], [0, 1], 0.7, [TEAL, ORANGE])
ax.set_xticks([0, 1], ['low', 'high'])
ax.set_yticks([3, 4, 5])
bracket(ax, 0, 1, 5.67, 0.09, '2.5e\u221206')
top_legend('riskscore', 855, 629.7, [(904, 916, 922.7, 'low', TEAL), (942.7, 955, 961.7, 'high', ORANGE)])
ov.text(757.3, 758, 'PD\u2212L1 expression', rotation=90, ha='center', va='center', fontsize=7.4, color='#222222')
ov.text(916.7, 885, 'riskscore', ha='center', va='center', fontsize=7.4, color='#222222')

# L
ax = px_axes(1125, 662.3, 1536, 845)
classic(ax, size=7.2)
ax.set_xlim(-0.6, 5.6)
ax.set_ylim(-0.51, 10.7)
pos = np.arange(len(l_genes))
draw_boxes(ax, [box_stats(v, o) for v, o in zip(l_low, l_low_out)], pos - 0.2, 0.4, [TEAL] * 6, med_lw=1.3, ms=2.4)
draw_boxes(ax, [box_stats(v, o) for v, o in zip(l_high, l_high_out)], pos + 0.2, 0.4, [ORANGE] * 6, med_lw=1.3, ms=2.4)
ax.set_xticks(pos)
ax.set_xticklabels(l_genes, rotation=50, ha='right', rotation_mode='anchor', fontsize=6.2)
ax.set_yticks([0, 2.5, 5, 7.5, 10], ['0.0', '2.5', '5.0', '7.5', '10.0'])
for p in pos:
    ax.text(p, 10.4, '***', ha='center', va='center', fontsize=6, color='#222222')
top_legend('Risk', 1285, 641, [(1309.3, 1320.7, 1326, 'low', TEAL), (1344, 1355, 1361, 'high', ORANGE)], key_size=6.2)
ov.text(1095, 753, 'Gene expression', rotation=90, ha='center', va='center', fontsize=6.8, color='#222222')

fig.savefig('out.png', dpi=100, facecolor='white')
